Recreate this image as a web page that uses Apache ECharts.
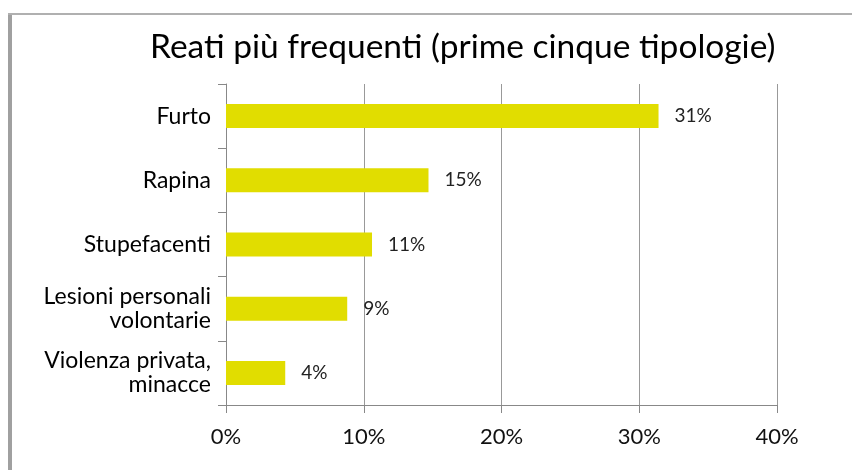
<!DOCTYPE html>
<html>
<head>
    <meta charset="utf-8">
    <title>Reati più frequenti</title>
    <script src="https://cdn.jsdelivr.net/npm/echarts@6/dist/echarts.min.js"></script>
    <style>
        html, body { margin: 0; padding: 0; background: #fff; }
        #container { width: 852px; height: 470px; }
    </style>
</head>
<body>
<div id="container"></div>
<script type="text/javascript">
    // categorie e valori (percentuali)
    var categories = ['Furto', 'Rapina', 'Stupefacenti', 'Lesioni personali\nvolontarie', 'Violenza privata,\nminacce'];
    var values = [31.4, 14.7, 10.6, 8.8, 4.3];
    var xTicks = [0, 10, 20, 30, 40];

    var font = 'Lato, "Open Sans", sans-serif';
    var myChart = echarts.init(document.getElementById('container'));

    var option = {
        animation: false,
        backgroundColor: '#fff',
        //titolo
        title: {
            text: 'Reati più frequenti (prime cinque tipologie)',
            left: 145,
            top: 25,
            textStyle: { fontFamily: font, fontSize: 33.5, fontWeight: 'normal', color: '#000' }
        },
        //cornice
        graphic: [
            { type: 'rect', shape: { x: 8, y: 13, width: 4, height: 460 }, style: { fill: '#a0a0a0' } },
            { type: 'rect', shape: { x: 8, y: 13, width: 844, height: 2 }, style: { fill: '#b0b0b0' } }
        ],
        grid: { left: 226, right: 75, top: 84, bottom: 65 },
        xAxis: {
            type: 'value',
            min: xTicks[0],
            max: xTicks[xTicks.length - 1],
            interval: 10,
            axisLine: { show: true, lineStyle: { color: '#888' } },
            axisTick: { show: true, length: 8, lineStyle: { color: '#888' } },
            splitLine: { show: true, lineStyle: { color: '#999' } },
            axisLabel: {
                formatter: '{value}%',
                margin: 21,
                fontFamily: font,
                fontSize: 22,
                color: '#111'
            }
        },
        yAxis: {
            type: 'category',
            inverse: true,
            data: categories,
            axisLine: { show: true, lineStyle: { color: '#888' } },
            axisTick: { show: true, length: 8, lineStyle: { color: '#888' } },
            axisLabel: {
                margin: 15,
                fontFamily: font,
                fontSize: 23,
                lineHeight: 24,
                color: '#000'
            }
        },
        series: [{
            type: 'bar',
            data: values,
            barWidth: 24,
            itemStyle: { color: '#e1dd00' },
            label: {
                show: true,
                position: 'right',
                distance: 16,
                formatter: function (p) { return Math.round(p.value) + '%'; },
                fontFamily: font,
                fontSize: 19,
                color: '#222'
            }
        }]
    };
    myChart.setOption(option);
</script>
</body>
</html>
